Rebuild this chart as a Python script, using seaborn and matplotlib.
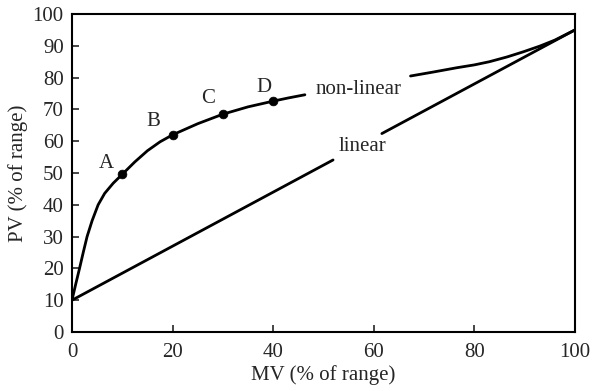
import numpy as np
import pandas as pd
import seaborn as sns
import matplotlib
matplotlib.use("Agg")
import matplotlib.pyplot as plt

# --- data ---
nl_x1 = [0, 0.75, 1.5, 2.25, 3, 4, 5.2, 6.5, 8.2, 10, 12.5, 15, 17.5, 20, 25, 30, 35, 40, 43, 46.3]
nl_y1 = [10, 15.1, 20, 25.1, 30, 35, 40, 43.6, 46.8, 49.6, 53.5, 57, 59.8, 62, 65.5, 68.5, 70.8, 72.6, 73.6, 74.6]
nl_x2 = [67.3, 72, 76.5, 80, 83, 86.5, 89.7, 93, 96, 100]
nl_y2 = [80.5, 81.8, 83.1, 84, 85, 86.5, 88.1, 89.9, 91.8, 95]
lin_x1 = [0, 51.9]
lin_y1 = [10, 54.1]
lin_x2 = [61.6, 100]
lin_y2 = [62.4, 95]
pt_labels = ["A", "B", "C", "D"]
pt_x = [10, 20, 30, 40]
pt_y = [49.6, 62, 68.5, 72.6]
x_ticks = [0, 20, 40, 60, 80, 100]
y_ticks = [0, 10, 20, 30, 40, 50, 60, 70, 80, 90, 100]

sns.set_style("ticks")
plt.rcParams["font.family"] = ["Liberation Serif", "DejaVu Serif"]
plt.rcParams["font.size"] = 15

df = pd.concat([
    pd.DataFrame({"x": nl_x1, "y": nl_y1, "seg": "n1"}),
    pd.DataFrame({"x": nl_x2, "y": nl_y2, "seg": "n2"}),
    pd.DataFrame({"x": lin_x1, "y": lin_y1, "seg": "l1"}),
    pd.DataFrame({"x": lin_x2, "y": lin_y2, "seg": "l2"}),
], ignore_index=True)

fig = plt.figure(figsize=(5.92, 3.91), dpi=100)
ax = fig.add_axes([0.1216, 0.1509, 0.8497, 0.8133])

sns.lineplot(data=df, x="x", y="y", units="seg", estimator=None, sort=False,
             color="black", linewidth=2.0, ax=ax)
sns.scatterplot(x=pt_x, y=pt_y, color="black", s=40, edgecolor="black", zorder=5, ax=ax)

lab_off = [(-3.1, 3.3), (-3.8, 4.1), (-2.9, 4.8), (-1.8, 4.4)]
for lab, x, y, (dx, dy) in zip(pt_labels, pt_x, pt_y, lab_off):
    ax.text(x + dx, y + dy, lab, ha="center", va="center", fontsize=15)

ax.text(56.9, 76.4, "non-linear", ha="center", va="center", fontsize=15)
ax.text(57.8, 58.3, "linear", ha="center", va="center", fontsize=15)

ax.set_xlim(0, 100)
ax.set_ylim(0, 100)
ax.set_xticks(x_ticks)
ax.set_yticks(y_ticks)
ax.tick_params(direction="in", length=5, width=1.2, labelsize=15,
               top=False, right=False)
ax.tick_params(axis="x", pad=8)
ax.tick_params(axis="y", pad=6)
for s in ax.spines.values():
    s.set_linewidth(1.5)
    s.set_color("black")
ax.set_xlabel("MV (% of range)", fontsize=15, labelpad=2)
ax.set_ylabel("PV (% of range)", fontsize=15, labelpad=3)

fig.savefig("out.png", dpi=100)
